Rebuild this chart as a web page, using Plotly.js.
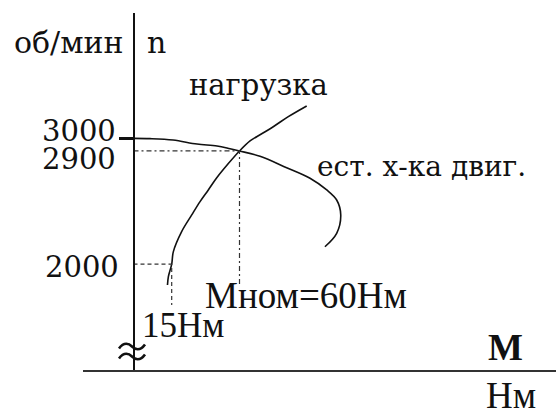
<!DOCTYPE html>
<html>
<head>
<meta charset="utf-8">
<script src="https://cdn.plot.ly/plotly-3.0.1.min.js"></script>
<style>
  html, body { margin: 0; padding: 0; background: #fff; }
  #chart { width: 556px; height: 416px; }
</style>
</head>
<body>
<div id="chart"></div>
<script>
// Естественная характеристика двигателя n(M)
const engineM = [-10.35, 0.6, 15.9, 31.8, 45.1, 53.7, 60, 73.6, 91.3, 106.8, 117.9, 124.5, 127.2, 124.5, 116.7];
const engineN = [3000, 2998, 2987, 2955, 2940, 2918, 2900, 2858, 2767, 2683, 2590, 2510, 2391, 2245, 2138];

// Характеристика нагрузки
const loadM = [12.2, 12.8, 15, 16.1, 21.6, 28.3, 33.8, 39.3, 44.9, 52.6, 60, 67, 71.4, 82.4, 92.4, 104.6];
const loadN = [1834, 1900, 2000, 2099, 2258, 2391, 2497, 2590, 2687, 2800, 2900, 2980, 3013, 3093, 3173, 3258];

// Рабочая точка и пусковая точка
const axisM = -10.35;
const nomM = 60, nomN = 2900;
const startM = 15, startN = 2000;

// Подписи оси n
const tickVals = [3000, 2900, 2000];
const tickLabels = ["3000", "2900", "2000"];
const tickShift = [7, -8, -3];

const xRange = [-43.87, 270.06];
const yRange = [1157.5, 3997.6];

const W = 556, H = 416;
const margin = { l: 83, r: 0, t: 13, b: 46 };
const plotW = W - margin.l - margin.r;
const plotH = H - margin.t - margin.b;
const px = x => (x - margin.l) / plotW;
const py = y => (H - margin.b - y) / plotH;

const dserif = "DejaVu Serif, serif";
const serif = "Liberation Serif, Times New Roman, serif";

const traces = [
    {x: engineM, y: engineN, mode: "lines", line: {color: "#111", width: 1.6, shape: "spline"}},
    {x: loadM, y: loadN, mode: "lines", line: {color: "#111", width: 1.6, shape: "spline"}},
    {x: [axisM, nomM, nomM], y: [nomN, nomN, 1834], mode: "lines",
        line: {color: "#333", width: 1.2, dash: "5px,3px,2px,3px"}},
    {x: [axisM, startM, startM], y: [startN, startN, 1675], mode: "lines",
        line: {color: "#333", width: 1.2, dash: "4px,3px"}}
];

const annotations = tickLabels.map((t, i) => ({
    text: t, xref: "paper", yref: "y", x: px(i === 2 ? 121 : 118), y: tickVals[i],
    xanchor: "right", yanchor: "middle", yshift: tickShift[i], showarrow: false,
    font: {family: dserif, size: 29, color: "#111"}
}));

function label(text, left, center, family, size) {
    annotations.push({
        text: text, xref: "paper", yref: "paper", x: px(left), y: py(center),
        xanchor: "left", yanchor: "middle", showarrow: false,
        font: {family: family, size: size, color: "#111"}
    });
}

label("об/мин", 12, 42, dserif, 30);
label("n", 145, 42, dserif, 30);
label("нагрузка", 187, 85, dserif, 29);
label("ест. х-ка двиг.", 315, 166, dserif, 28);
label("Мном=60Нм", 203, 295, serif, 37);
label("15Нм", 140, 325, serif, 35);
label("<b>М</b>", 486, 347, serif, 37);
label("Нм", 484, 395, serif, 37);

// знак разрыва оси (≈)
function wave(yc) {
    const p = (x, y) => px(x).toFixed(4) + "," + py(y).toFixed(4);
    return "M" + p(119, yc + 2) + " C" + p(124, yc - 5) + " " + p(129, yc - 3) + " " + p(132, yc) +
        " S" + p(140, yc + 5) + " " + p(145, yc - 2);
}
const shapes = [346.5, 356.5].map(yc => ({
    type: "path", xref: "paper", yref: "paper", path: wave(yc),
    line: {color: "#111", width: 2.6}
}));

const layout = {
    width: W,
    height: H,
    margin: margin,
    showlegend: false,
    paper_bgcolor: "#fff",
    plot_bgcolor: "#fff",
    xaxis: {
        range: xRange, showgrid: false, zeroline: false, showticklabels: false,
        showline: true, linecolor: "#333", linewidth: 1.5, ticks: ""
    },
    yaxis: {
        range: yRange, anchor: "free", position: (axisM - xRange[0]) / (xRange[1] - xRange[0]),
        showgrid: false, zeroline: false, showticklabels: false,
        showline: true, linecolor: "#111", linewidth: 2,
        tickvals: [3000], ticks: "outside", ticklen: 14, tickwidth: 3, tickcolor: "#111"
    },
    shapes: shapes,
    annotations: annotations
};

Plotly.newPlot("chart", traces, layout, {staticPlot: true, displayModeBar: false});
</script>
</body>
</html>
